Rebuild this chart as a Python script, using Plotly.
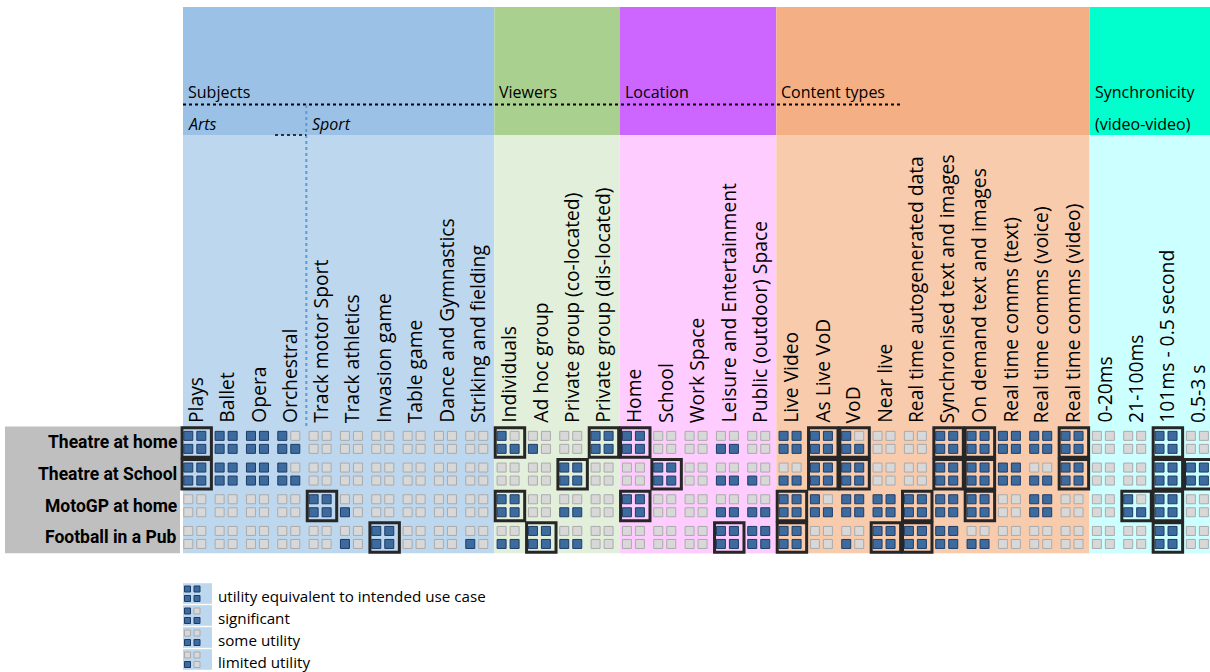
import plotly.graph_objects as go

# ---------------- data ----------------
group_names = ["Subjects", "Viewers", "Location", "Content types", "Synchronicity"]
group_sizes = [10, 4, 5, 10, 4]
subgroup_names = ["Arts", "Sport"]
subgroup_sizes = [4, 6]

columns = [
    "Plays", "Ballet", "Opera", "Orchestral",
    "Track motor Sport", "Track athletics", "Invasion game", "Table game",
    "Dance and Gymnastics", "Striking and fielding",
    "Individuals", "Ad hoc group", "Private group (co-located)", "Private group (dis-located)",
    "Home", "School", "Work Space", "Leisure and Entertainment", "Public (outdoor) Space",
    "Live Video", "As Live VoD", "VoD", "Near live", "Real time autogenerated data",
    "Synchronised text and images", "On demand text and images",
    "Real time comms (text)", "Real time comms (voice)", "Real time comms (video)",
    "0-20ms", "21-100ms", "101ms - 0.5 second", "0.5-3 s",
]

use_cases = ["Theatre at home", "Theatre at School", "MotoGP at home", "Football in a Pub"]

# utility level per column: 4 equivalent, 3 significant, 2 some, 1 limited, 0 none
levels_theatre_home = [4, 4, 4, 3, 0, 0, 0, 0, 0, 0,
                       3, 1, 0, 4,
                       4, 0, 0, 2, 0,
                       4, 4, 3, 0, 0, 4, 4, 4, 4, 4,
                       0, 0, 4, 0]
levels_theatre_school = [4, 4, 4, 3, 0, 0, 0, 0, 0, 0,
                         0, 0, 4, 0,
                         0, 4, 0, 2, 1,
                         2, 4, 4, 0, 0, 4, 4, 4, 2, 4,
                         0, 0, 4, 4]
levels_motogp_home = [0, 0, 0, 0, 4, 1, 0, 0, 0, 0,
                      4, 0, 2, 0,
                      4, 0, 0, 2, 2,
                      4, 3, 4, 4, 4, 4, 4, 0, 4, 0,
                      0, 3, 4, 0]
levels_football_pub = [0, 0, 0, 0, 0, 1, 4, 0, 0, 1,
                       2, 4, 2, 0,
                       0, 0, 0, 4, 4,
                       4, 0, 1, 4, 4, 4, 2, 0, 0, 0,
                       0, 0, 4, 0]

boxed_theatre_home = ["Plays", "Individuals", "Private group (dis-located)", "Home",
                      "As Live VoD", "VoD", "Synchronised text and images",
                      "On demand text and images", "Real time comms (video)", "101ms - 0.5 second"]
boxed_theatre_school = ["Plays", "Private group (co-located)", "School", "As Live VoD", "VoD",
                        "Synchronised text and images", "On demand text and images",
                        "Real time comms (video)", "101ms - 0.5 second", "0.5-3 s"]
boxed_motogp_home = ["Track motor Sport", "Individuals", "Home", "Live Video",
                     "Real time autogenerated data", "On demand text and images",
                     "21-100ms", "101ms - 0.5 second"]
boxed_football_pub = ["Invasion game", "Ad hoc group", "Leisure and Entertainment", "Live Video",
                      "Near live", "Real time autogenerated data", "101ms - 0.5 second"]

legend_levels = [4, 3, 2, 1]
legend_labels = ["utility equivalent to intended use case", "significant", "some utility", "limited utility"]

# ---------------- styling / geometry ----------------
level_rows = [levels_theatre_home, levels_theatre_school, levels_motogp_home, levels_football_pub]
boxed_rows = [boxed_theatre_home, boxed_theatre_school, boxed_motogp_home, boxed_football_pub]
PATTERN = {4: [1, 1, 1, 1], 3: [1, 0, 1, 1], 2: [0, 0, 1, 1], 1: [0, 0, 1, 0], 0: [0, 0, 0, 0]}

group_dark = ["#9BC2E6", "#A9D08E", "#CC66FF", "#F4B084", "#00FFCC"]
group_light = ["#BDD7EE", "#E2EFDA", "#FFCCFF", "#F8CBAD", "#CCFFFF"]
BLUE, BLUE_LINE = "#3E6B9E", "#1C3C68"
GREY, GREY_LINE = "#D8D8D8", "#ABABAB"

FW, FH = 1210, 672
X0, W = 181.0, 31.33     # pixel of column 0 left edge, column pitch
Y0, H = 426.5, 31.7      # pixel of row 0 top edge, row pitch


def xu(px):
    return (px - X0) / W


def yu(py):
    return (py - Y0) / H


FONT = "Open Sans"
fig = go.Figure()
shapes = []
annotations = []

# group backgrounds
start = 0
for gi, size in enumerate(group_sizes):
    x0 = start if start > 0 else xu(183)
    shapes.append(dict(type="rect", xref="x", yref="y", x0=x0, x1=start + size,
                       y0=yu(7), y1=yu(135), fillcolor=group_dark[gi], line_width=0, layer="below"))
    shapes.append(dict(type="rect", xref="x", yref="y", x0=x0, x1=start + size,
                       y0=yu(135), y1=len(use_cases), fillcolor=group_light[gi], line_width=0, layer="below"))
    annotations.append(dict(x=x0 + 3 / W, y=yu(92), xref="x", yref="y",
                            text=group_names[gi], showarrow=False, xanchor="left", yanchor="middle",
                            font=dict(family=FONT, size=16, color="#000000")))
    start += size

annotations.append(dict(x=29 + 3 / W, y=yu(124), xref="x", yref="y", text="(video-video)",
                        showarrow=False, xanchor="left", yanchor="middle",
                        font=dict(family=FONT, size=16, color="#000000")))

# sub-groups (Arts / Sport)
start = 0
for si, size in enumerate(subgroup_sizes):
    sx = start + (5 / W if start == 0 else 4 / W)
    annotations.append(dict(x=sx, y=yu(124), xref="x", yref="y", text="<i>" + subgroup_names[si] + "</i>",
                            showarrow=False, xanchor="left", yanchor="middle",
                            font=dict(family=FONT, size=16, color="#000000")))
    start += size

# dashed decorations
shapes.append(dict(type="line", xref="x", yref="y", x0=xu(183), x1=xu(903), y0=yu(104.5), y1=yu(104.5),
                   line=dict(color="#000000", width=2, dash="dot"), layer="above"))
shapes.append(dict(type="line", xref="x", yref="y", x0=subgroup_sizes[0], x1=subgroup_sizes[0],
                   y0=yu(105), y1=0, line=dict(color="#5B9BD5", width=2, dash="dot"), layer="above"))
shapes.append(dict(type="line", xref="x", yref="y", x0=xu(275), x1=subgroup_sizes[0], y0=yu(135), y1=yu(135),
                   line=dict(color="#000000", width=1.5, dash="dot"), layer="above"))

# row label background and labels
shapes.append(dict(type="rect", xref="x", yref="y", x0=xu(5), x1=xu(180), y0=0, y1=len(use_cases),
                   fillcolor="#BFBFBF", line_width=0, layer="below"))
for ri, name in enumerate(use_cases):
    annotations.append(dict(x=xu(179), y=ri + 0.5, xref="x", yref="y", text="<b>" + name + "</b>",
                            showarrow=False, xanchor="right", yanchor="middle",
                            font=dict(family="Roboto", size=17.5, color="#000000")))

# column labels
for ci, name in enumerate(columns):
    annotations.append(dict(x=ci + 14 / W, y=yu(424), xref="x", yref="y", text=name, textangle=-90,
                            showarrow=False, xanchor="center", yanchor="bottom", borderpad=0,
                            font=dict(family=FONT, size=19.3, color="#000000")))

# squares
dx = [7.3 / W, 20.3 / W]
dy = [9.35 / H, 22.35 / H]
bx, by, gx, gy = [], [], [], []
for ri, row in enumerate(level_rows):
    for ci, lv in enumerate(row):
        pat = PATTERN[lv]
        for k in range(4):
            xx = ci + dx[k % 2]
            yy = ri + dy[k // 2]
            if pat[k]:
                bx.append(xx); by.append(yy)
            else:
                gx.append(xx); gy.append(yy)

fig.add_trace(go.Scatter(x=gx, y=gy, mode="markers", hoverinfo="skip",
                         marker=dict(symbol="square", size=9, color=GREY, line=dict(color=GREY_LINE, width=1))))
fig.add_trace(go.Scatter(x=bx, y=by, mode="markers", hoverinfo="skip",
                         marker=dict(symbol="square", size=9, color=BLUE, line=dict(color=BLUE_LINE, width=1))))

# highlight boxes
for ri, boxed in enumerate(boxed_rows):
    for name in boxed:
        ci = columns.index(name)
        shapes.append(dict(type="rect", xref="x", yref="y", x0=ci + 0.03, x1=ci + 0.97,
                           y0=ri + 0.04, y1=ri + 0.97, line=dict(color="#262626", width=3),
                           fillcolor="rgba(0,0,0,0)", layer="above"))

# legend
lx, ly, lgx, lgy = [], [], [], []
LEG_Y0, LEG_DY = 593.5, 22
for li, lv in enumerate(legend_levels):
    cy = LEG_Y0 + LEG_DY * li
    shapes.append(dict(type="rect", xref="x", yref="y", x0=xu(183), x1=xu(212),
                       y0=yu(cy - 10.3), y1=yu(cy + 10.3), fillcolor="#BDD7EE", line_width=0, layer="below"))
    pat = PATTERN[lv]
    for k in range(4):
        xx = xu([187.5, 197][k % 2])
        yy = yu(cy + [-4.5, 5][k // 2])
        if pat[k]:
            lx.append(xx); ly.append(yy)
        else:
            lgx.append(xx); lgy.append(yy)
    annotations.append(dict(x=xu(216), y=yu(cy + 2), xref="x", yref="y", text=legend_labels[li],
                            showarrow=False, xanchor="left", yanchor="middle",
                            font=dict(family=FONT, size=15.2, color="#000000")))

fig.add_trace(go.Scatter(x=lgx, y=lgy, mode="markers", hoverinfo="skip",
                         marker=dict(symbol="square", size=6, color=GREY, line=dict(color=GREY_LINE, width=1))))
fig.add_trace(go.Scatter(x=lx, y=ly, mode="markers", hoverinfo="skip",
                         marker=dict(symbol="square", size=6, color=BLUE, line=dict(color=BLUE_LINE, width=1))))

fig.update_layout(
    width=FW, height=FH, margin=dict(l=0, r=0, t=0, b=0, pad=0),
    paper_bgcolor="#FFFFFF", plot_bgcolor="#FFFFFF", showlegend=False,
    xaxis=dict(range=[xu(0), xu(FW)], visible=False, fixedrange=True),
    yaxis=dict(range=[yu(FH), yu(0)], visible=False, fixedrange=True),
    shapes=shapes, annotations=annotations,
)

fig.write_html("out.html", config={"displayModeBar": False},
               post_script="document.body.style.margin='0px';")
